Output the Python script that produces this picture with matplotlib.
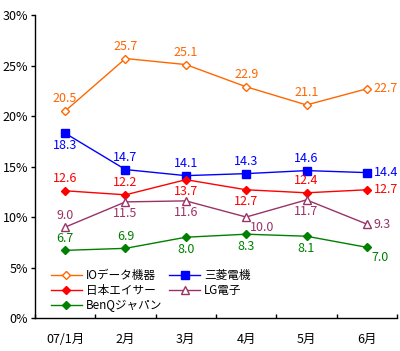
import matplotlib
matplotlib.use("Agg")
import matplotlib.pyplot as plt
from matplotlib.ticker import FixedLocator, FuncFormatter

plt.rcParams['font.family'] = ['Noto Sans CJK JP', 'DejaVu Sans']

months = ["07/1月", "2月", "3月", "4月", "5月", "6月"]
series_names = ["IOデータ機器", "三菱電機", "日本エイサー", "LG電子", "BenQジャパン"]
io_vals = [20.5, 25.7, 25.1, 22.9, 21.1, 22.7]
mitsu_vals = [18.3, 14.7, 14.1, 14.3, 14.6, 14.4]
acer_vals = [12.6, 12.2, 13.7, 12.7, 12.4, 12.7]
lg_vals = [9.0, 11.5, 11.6, 10.0, 11.7, 9.3]
benq_vals = [6.7, 6.9, 8.0, 8.3, 8.1, 7.0]
yticks = [0, 5, 10, 15, 20, 25, 30]

# label placement: 'a' above, 'b' below, 'r' right, 'br' below-right
io_pos = ['a', 'a', 'a', 'a', 'a', 'r']
mitsu_pos = ['b', 'a', 'a', 'a', 'a', 'r']
acer_pos = ['a', 'a', 'b', 'b', 'a', 'r']
lg_pos = ['a', 'b', 'b', 'br', 'b', 'r']
benq_pos = ['a', 'a', 'b', 'b', 'b', 'br']

fig = plt.figure(figsize=(4.0, 3.51), dpi=100)
ax = fig.add_axes([0.0875, 0.094, 0.905, 0.863])

x = list(range(len(months)))
styles = [
    (io_vals, io_pos, '#FF6600', dict(marker='D', markersize=4, markerfacecolor='white', markeredgecolor='#FF6600')),
    (mitsu_vals, mitsu_pos, '#0000FF', dict(marker='s', markersize=5.5, markerfacecolor='#0000FF', markeredgecolor='#0000FF')),
    (acer_vals, acer_pos, '#FF0000', dict(marker='D', markersize=4.5, markerfacecolor='#FF0000', markeredgecolor='#FF0000')),
    (lg_vals, lg_pos, '#993366', dict(marker='^', markersize=5.5, markerfacecolor='white', markeredgecolor='#993366')),
    (benq_vals, benq_pos, '#008000', dict(marker='D', markersize=4.5, markerfacecolor='#008000', markeredgecolor='#008000')),
]

fs = 9
handles = []
for (vals, pos, col, mk), name in zip(styles, series_names):
    h, = ax.plot(x, vals, color=col, lw=1, label=name, **mk)
    handles.append(h)
    for xi, v, p in zip(x, vals, pos):
        if p == 'a':
            ax.annotate(f"{v:.1f}", (xi, v), xytext=(0, 4), textcoords='offset points',
                        ha='center', va='bottom', color=col, fontsize=fs)
        elif p == 'b':
            ax.annotate(f"{v:.1f}", (xi, v), xytext=(0, -4), textcoords='offset points',
                        ha='center', va='top', color=col, fontsize=fs)
        elif p == 'r':
            ax.annotate(f"{v:.1f}", (xi, v), xytext=(5, 0), textcoords='offset points',
                        ha='left', va='center', color=col, fontsize=fs)
        elif p == 'br':
            ax.annotate(f"{v:.1f}", (xi, v), xytext=(3, -3), textcoords='offset points',
                        ha='left', va='top', color=col, fontsize=fs)

ax.set_xlim(-0.5, len(months) - 0.5)
ax.set_ylim(0, 30)
ax.set_yticks(yticks)
ax.yaxis.set_major_formatter(FuncFormatter(lambda v, p: f"{int(v)}%"))
ax.set_xticks(x)
ax.set_xticklabels(months)
ax.xaxis.set_minor_locator(FixedLocator([i - 0.5 for i in range(len(months) + 1)]))
ax.tick_params(axis='x', which='major', length=0, pad=11, labelsize=fs)
ax.tick_params(axis='x', which='minor', length=3, direction='in', width=1)
ax.tick_params(axis='y', which='major', length=3, direction='out', width=1, labelsize=fs, pad=2)
for s in ['top', 'right']:
    ax.spines[s].set_visible(False)
for s in ['left', 'bottom']:
    ax.spines[s].set_linewidth(1)
    ax.spines[s].set_color('black')

order = [0, 2, 4, 1, 3]
ax.legend([handles[i] for i in order], [series_names[i] for i in order], ncol=2,
          loc='lower left', bbox_to_anchor=(0.03, 0.005), frameon=False, fontsize=8.4,
          handlelength=2.7, columnspacing=0.6, labelspacing=0.18, handletextpad=0.3,
          borderaxespad=0)

fig.savefig("out.png", dpi=100)
